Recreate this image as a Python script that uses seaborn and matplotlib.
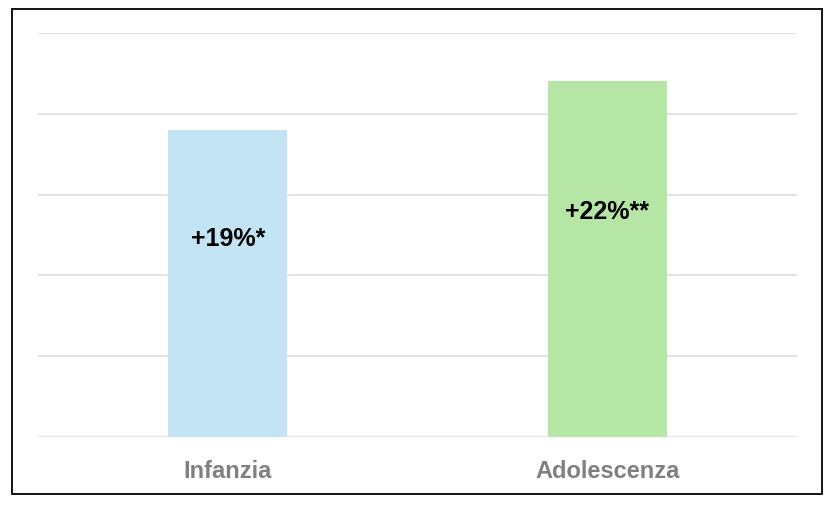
import matplotlib
matplotlib.use("Agg")
import matplotlib.pyplot as plt
import seaborn as sns
import pandas as pd
from matplotlib.patches import Rectangle

# data
categories = ["Infanzia", "Adolescenza"]
values = [19, 22]
labels = ["+19%*", "+22%**"]
label_y = [12.3, 14.0]
colors = ["#C2E4F5", "#B5E6A5"]

df = pd.DataFrame({"gruppo": categories, "valore": values})

sns.set_theme(style="white")
plt.rcParams["font.family"] = ["Liberation Sans", "DejaVu Sans"]

fig = plt.figure(figsize=(8.34, 5.10), dpi=100)
ax = fig.add_axes([38 / 834, 1 - 438 / 510, (797 - 38) / 834, (438 - 34) / 510])

sns.barplot(data=df, x="gruppo", y="valore", hue="gruppo",
            palette=colors, width=0.313, legend=False, ax=ax,
            saturation=1, linewidth=0, zorder=2)

ax.set_ylim(0, 25)
ax.set_xlim(-0.5, 1.5)
ax.set_yticks([0, 5, 10, 15, 20, 25])
ax.yaxis.grid(True, color="#E3E3E3", linewidth=1.5, zorder=0)
ax.set_axisbelow(True)
ax.tick_params(axis="y", left=False, labelleft=False)
ax.tick_params(axis="x", bottom=False, pad=10)
for s in ax.spines.values():
    s.set_visible(False)
ax.set_xlabel("")
ax.set_ylabel("")
for t in ax.get_xticklabels():
    t.set_fontsize(17)
    t.set_fontweight("bold")
    t.set_color("#808080")

for i, (lab, yy) in enumerate(zip(labels, label_y)):
    ax.text(i, yy, lab, ha="center", va="center", fontsize=18,
            fontweight="bold", color="black", zorder=3)

# outer frame
fig.patches.append(Rectangle((12 / 834, 1 - 495 / 510), (822 - 12) / 834,
                             (495 - 10) / 510, transform=fig.transFigure,
                             fill=False, edgecolor="black", linewidth=1.3))

fig.savefig("out.png", dpi=100)
